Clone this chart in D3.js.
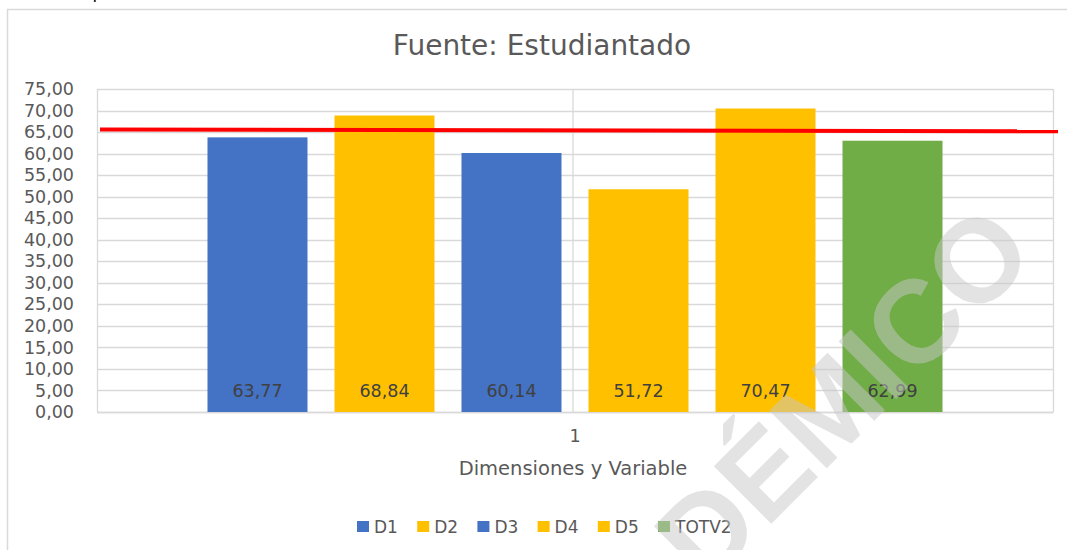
<!DOCTYPE html>
<html>
  <head>
    <meta charset="utf-8">
    <title>Fuente: Estudiantado</title>
    <script src="https://cdn.jsdelivr.net/npm/d3@7"></script>
    <style>
      body { margin: 0; background: #fff; }
      svg { display: block; font-family: "DejaVu Sans", sans-serif; }
      .grid line { stroke: #d9d9d9; stroke-width: 1.3; }
      .tick text { fill: #595959; }
    </style>
  </head>
  <body>
    <svg width="1067" height="550"></svg>
    <script>
      // chart data
      var category = ["1"];
      var series = ["D1", "D2", "D3", "D4", "D5", "TOTV2"];
      var values = [63.77, 68.84, 60.14, 51.72, 70.47, 62.99];
      var colors = ["#4472c4", "#ffc000", "#4472c4", "#ffc000", "#ffc000", "#70ad47"];
      var yTicks = [0, 5, 10, 15, 20, 25, 30, 35, 40, 45, 50, 55, 60, 65, 70, 75];
      var refLine = [65.6, 65.2]; // red line drawn over the chart, start / end value

      var svg = d3.select("svg");
      var margin = { left: 97, right: 14, top: 89, bottom: 138 };
      var width = 1067, height = 550;
      var fmt = function(v) { return d3.format(".2f")(v).replace(".", ","); };

      // caption of the page, cut off at the top
      svg.append("text")
          .attr("x", 6).attr("y", -2)
          .style("font-size", "17px").attr("fill", "#000")
          .text("Escala de puntos (%)");

      // chart frame
      svg.append("rect")
          .attr("x", 7.5).attr("y", 9.5)
          .attr("width", 1100).attr("height", 600)
          .attr("fill", "none").attr("stroke", "#d9d9d9").attr("stroke-width", 1.5);

      svg.append("text")
          .attr("x", 542).attr("y", 55)
          .attr("text-anchor", "middle")
          .style("font-size", "28px").attr("fill", "#595959")
          .text("Fuente: Estudiantado");

      var x0 = d3.scaleBand().domain(category)
          .range([margin.left, width - margin.right]);
      var x1 = d3.scaleBand().domain(series)
          .range([0, x0.bandwidth()])
          .paddingInner(0.2126).paddingOuter(0.87);
      var y = d3.scaleLinear().domain([0, 75])
          .range([height - margin.bottom, margin.top]);

      // gridlines
      svg.append("g").attr("class", "grid")
          .selectAll("line").data(yTicks)
          .enter().append("line")
            .attr("x1", margin.left).attr("x2", width - margin.right)
            .attr("y1", function(d) { return Math.round(y(d)) + 0.5; })
            .attr("y2", function(d) { return Math.round(y(d)) + 0.5; });

      var grid = svg.select(".grid");
      grid.append("line")
          .attr("x1", margin.left + 0.5).attr("x2", margin.left + 0.5)
          .attr("y1", y(75)).attr("y2", y(0));
      grid.append("line")
          .attr("x1", width - margin.right + 0.5).attr("x2", width - margin.right + 0.5)
          .attr("y1", y(75)).attr("y2", y(0));
      grid.append("line")
          .attr("x1", x0("1") + x0.bandwidth() / 2 - 2).attr("x2", x0("1") + x0.bandwidth() / 2 - 2)
          .attr("y1", y(75)).attr("y2", y(0));

      // y axis
      var yAxis = svg.append("g")
          .attr("transform", "translate(" + (margin.left - 6) + ",0)")
          .call(d3.axisLeft(y).tickValues(yTicks).tickFormat(fmt).tickSize(0).tickPadding(17));
      yAxis.select(".domain").remove();
      yAxis.selectAll("text").style("font-size", "17.5px").attr("font-family", "DejaVu Sans");

      // x axis
      var xAxis = svg.append("g")
          .attr("transform", "translate(0," + y(0) + ")")
          .call(d3.axisBottom(x0).tickSize(0).tickPadding(18));
      xAxis.select(".domain").attr("stroke", "#d9d9d9").attr("stroke-width", 1.5);
      xAxis.selectAll("text").style("font-size", "17.5px").attr("font-family", "DejaVu Sans");

      svg.append("text")
          .attr("x", 573).attr("y", 475)
          .attr("text-anchor", "middle")
          .style("font-size", "19.5px").attr("fill", "#595959")
          .text("Dimensiones y Variable");

      // bars
      var bars = svg.append("g")
          .attr("transform", "translate(" + x0("1") + ",0)");
      bars.selectAll("rect").data(values)
        .enter().append("rect")
          .attr("x", function(d, i) { return x1(series[i]); })
          .attr("y", function(d) { return y(d); })
          .attr("width", x1.bandwidth())
          .attr("height", function(d) { return y(0) - y(d); })
          .attr("fill", function(d, i) { return colors[i]; });
      bars.selectAll("text").data(values)
        .enter().append("text")
          .attr("x", function(d, i) { return x1(series[i]) + x1.bandwidth() / 2; })
          .attr("y", y(0) - 15)
          .attr("text-anchor", "middle")
          .style("font-size", "17.5px").attr("fill", "#404040")
          .text(fmt);

      // red reference line
      svg.append("line")
          .attr("x1", margin.left + 3).attr("x2", width - margin.right + 5)
          .attr("y1", y(refLine[0])).attr("y2", y(refLine[1]))
          .attr("stroke", "#ff0000").attr("stroke-width", 4);

      // legend
      var legend = svg.append("g").attr("transform", "translate(357,521)");
      var item = legend.selectAll("g").data(series)
        .enter().append("g")
          .attr("transform", function(d, i) { return "translate(" + (i * 60.2) + ",0)"; });
      item.append("rect")
          .attr("width", 12).attr("height", 11)
          .attr("fill", function(d, i) { return colors[i]; });
      item.append("text")
          .attr("x", 17).attr("y", 12)
          .style("font-size", "17px").attr("fill", "#595959")
          .text(function(d) { return d; });

      // watermark
      svg.append("text")
          .attr("transform", "translate(752,483) rotate(-45)")
          .attr("text-anchor", "middle").attr("dy", "0.36em")
          .attr("font-family", "Liberation Sans").attr("font-weight", "bold")
          .style("font-size", "118px")
          .attr("textLength", 725).attr("lengthAdjust", "spacingAndGlyphs")
          .attr("fill", "#c8c8c8").attr("fill-opacity", 0.5)
          .text("ACADÉMICO");
    </script>
  </body>
</html>
